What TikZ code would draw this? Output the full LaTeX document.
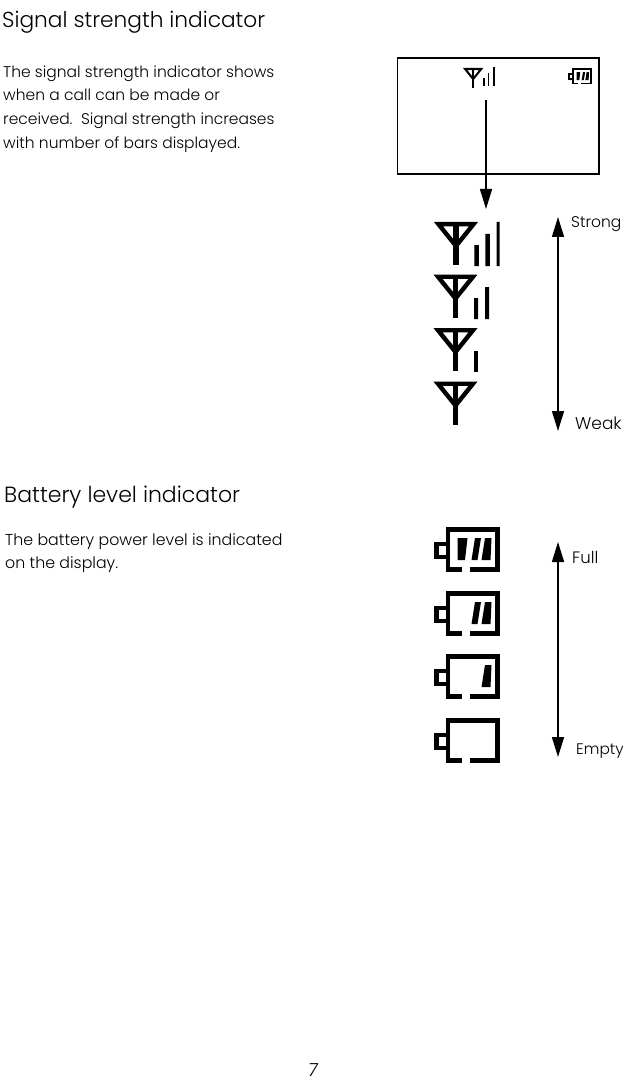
\documentclass[tikz,border=0pt]{standalone}
\usepackage{fontspec}
\setmainfont{Poppins}[UprightFont=* Light,ItalicFont=* Light Italic]
\usetikzlibrary{arrows.meta}
\tikzset{
  x=1pt,y=-1pt,
  body/.style={anchor=base west,inner sep=0pt,font=\fontsize{15.5}{18}\selectfont},
  bodyb/.style={anchor=base west,inner sep=0pt,font=\fontsize{15.8}{18}\selectfont},
  title/.style={anchor=base west,inner sep=0pt,font=\fontsize{21.7}{26}\selectfont},
  titleb/.style={anchor=base west,inner sep=0pt,font=\fontsize{22}{26}\selectfont},
  lab/.style={anchor=base west,inner sep=0pt},
  conn/.style={line width=1.5pt,{Triangle[length=20pt,width=12pt]}-{Triangle[length=20pt,width=12pt]}},
  conn1/.style={line width=1.5pt,-{Triangle[length=20pt,width=12pt]}},
}
\newcommand{\antenna}[3]{%
  \begin{scope}[shift={(#1,#2)},scale=#3]
    \draw[line width=#3*4.4pt,miter limit=10] (3.5,2.2) -- (38.5,2.2) -- (21,24) -- cycle;
    \draw[line width=#3*5.2pt] (21,1) -- (21,43);
  \end{scope}}
\newcommand{\battery}[3]{%
  \begin{scope}[shift={(#1,#2)},scale=#3]
    \draw[line width=#3*4.8pt] (28,42.6) -- (14,42.6) -- (14,2.4) -- (63.6,2.4) -- (63.6,42.6) -- (36,42.6);
    \draw[line width=#3*4.8pt] (14,17) -- (2.4,17) -- (2.4,30) -- (14,30);
  \end{scope}}
\newcommand{\bara}[3]{\fill[shift={(#1,#2)},scale=#3] (23.5,11) -- (33.5,11) -- (31,33) -- (23.5,33) -- cycle;}
\newcommand{\barb}[3]{\fill[shift={(#1,#2)},scale=#3] (41,11) -- (47,11) -- (43.5,33) -- (37.5,33) -- cycle;}
\newcommand{\barc}[3]{\fill[shift={(#1,#2)},scale=#3] (51,11) -- (57.5,11) -- (56.5,33) -- (47.5,33) -- cycle;}
\begin{document}
\begin{tikzpicture}
\useasboundingbox (0,0) rectangle (623,1083);
\fill[white] (0,0) rectangle (623,1083);

\node[title] (t1) at (2,28) {Signal strength indicator};
\node[body] (b1) at (3,78) {The signal strength indicator shows};
\node[body] (b2) at (3,101) {when a call can be made or};
\node[body] (b3) at (3,125) {received.\ \ Signal strength increases};
\node[body] (b4) at (3,149) {with number of bars displayed.};

\node[titleb] (t2) at (4,502) {Battery level indicator};
\node[bodyb] (b5) at (5,545) {The battery power level is indicated};
\node[bodyb] (b6) at (5,568) {on the display.};

% display
\draw[line width=1.3pt] (397.5,58) rectangle (599,174);
\antenna{463.5}{68}{0.46}
\draw[line width=1.4pt] (484,86) -- (484,78) (488.5,86) -- (488.5,73) (494,86) -- (494,67);
\battery{568}{68}{0.365}
\bara{568}{68}{0.365}\barb{568}{68}{0.365}\barc{568}{68}{0.365}
\coordinate (dstart) at (486,100);
\coordinate (dend) at (486,209);
\draw[conn1] (dstart) -- (dend);

% signal icons
\antenna{435}{222}{1}
\fill (474.3,245) rectangle (478.8,266) (485.3,234) rectangle (489.8,266) (496.5,222) rectangle (499.5,266);
\antenna{434.5}{274.5}{1}
\fill (474,298) rectangle (478.2,319) (485,287) rectangle (489.2,319);
\antenna{434.5}{328}{1}
\fill (474,350.5) rectangle (478.2,371.5);
\antenna{434.5}{381.5}{1}

\coordinate (s1) at (558,217);
\coordinate (s2) at (558,431);
\draw[conn] (s1) -- (s2);
\node[lab,font=\fontsize{15.5}{18}\selectfont] (strong) at (571,228) {Strong};
\node[lab,font=\fontsize{17}{20}\selectfont] (weak) at (575,429) {Weak};

% batteries
\battery{434}{527}{1}
\bara{434}{527}{1}\barb{434}{527}{1}\barc{434}{527}{1}
\battery{434}{591}{1}
\barb{434}{591}{1}\barc{434}{591}{1}
\battery{434}{654}{1}
\barc{434}{654}{1}
\battery{434}{718}{1}

\coordinate (f1) at (558,542);
\coordinate (f2) at (558,757);
\draw[conn] (f1) -- (f2);
\node[lab,font=\fontsize{16.5}{20}\selectfont] (full) at (572,563) {Full};
\node[lab,font=\fontsize{15.3}{18}\selectfont] (empty) at (576,754) {Empty};

\node[anchor=base,inner sep=0pt,font=\fontsize{18}{22}\selectfont\itshape] (pg) at (313,1076) {7};
\end{tikzpicture}
\end{document}
